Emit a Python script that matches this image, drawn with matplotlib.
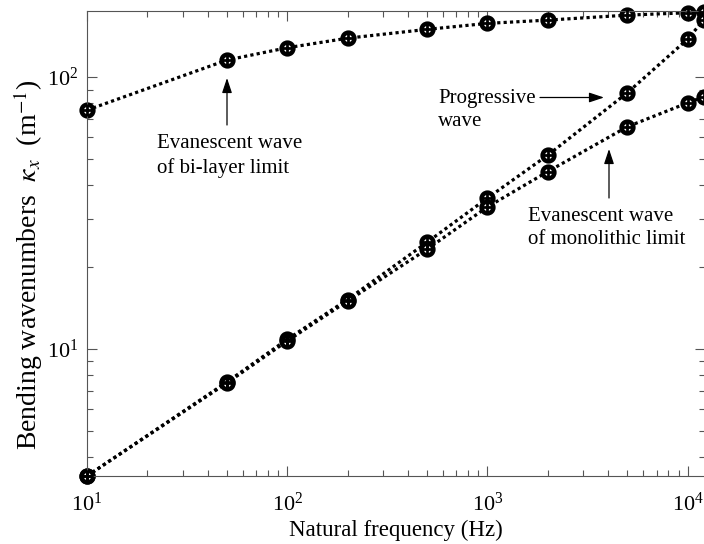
import numpy as np
import matplotlib
matplotlib.use('Agg')
import matplotlib.pyplot as plt

plt.rcParams['font.family'] = ['Liberation Serif', 'DejaVu Serif']
plt.rcParams['mathtext.fontset'] = 'stix'

# natural frequencies (Hz)
freq = [10, 50, 100, 200, 500, 1000, 2000, 5000, 10000, 12000]

# bending wavenumbers kappa_x (1/m)
k_bilayer = [75.6, 115.5, 128.2, 139.0, 149.8, 157.6, 162.0, 169.0, 172.4, 174.0]
k_progressive = [3.41, 7.56, 10.85, 15.2, 24.7, 35.9, 51.6, 87.6, 138.0, 162.0]
k_monolithic = [3.41, 7.50, 10.7, 15.0, 23.3, 33.3, 44.9, 65.7, 80.4, 84.6]

W, H = 704, 544
fig = plt.figure(figsize=(W / 100, H / 100), dpi=100)
ax = fig.add_axes([87 / W, 1 - 476 / H, 618 / W, 465 / H])

spine_col = '#555555'
for series in (k_bilayer, k_progressive, k_monolithic):
    ax.plot(freq, series, color='k', lw=2.3, dashes=(1, 1), zorder=2,
            marker='o', ms=8.5, mfc='white', mec='k', mew=3.2, clip_on=False)
    ax.plot(freq, series, ls='none', marker='+', ms=8.5, mec='k', mew=2.0,
            zorder=3, clip_on=False)

ax.set_xscale('log')
ax.set_yscale('log')
ax.set_xlim(10, 12200)
ax.set_ylim(3.41, 175)

ax.set_xlabel('Natural frequency (Hz)', fontsize=16.5, labelpad=3)
ax.set_ylabel(r'Bending wavenumbers  $\kappa_x$  (m$^{\mathrm{-1}}$)', fontsize=20)
ax.yaxis.set_label_coords(-87 / 618 + 28 / 618, 0.455)
ax.yaxis.label.set_va('center')

ax.tick_params(which='both', direction='in', top=True, right=True,
               colors=spine_col, labelcolor='k', labelsize=16)
ax.tick_params(axis='x', which='major', pad=12)
ax.tick_params(axis='y', which='major', pad=6)
ax.tick_params(which='major', length=7, width=0.8)
ax.tick_params(which='minor', length=4, width=0.8)
for s in ax.spines.values():
    s.set_color(spine_col)
    s.set_linewidth(0.8)

arrow = dict(arrowstyle='-|>,head_length=0.9,head_width=0.3', color='k', lw=0.9,
             shrinkA=0, shrinkB=0)

def pix(x, y):
    # figure-pixel position measured from the top-left corner
    return (x / W, 1 - y / H)

ax.annotate('', xy=pix(227, 78), xytext=pix(227, 125), xycoords='figure fraction',
            textcoords='figure fraction', arrowprops=arrow)
ax.text(*pix(157, 156), 'Evanescent wave\nof bi-layer limit', transform=fig.transFigure,
        fontsize=15, ha='left', va='center', linespacing=1.3)

ax.annotate('', xy=pix(604, 97.5), xytext=pix(540, 97.5), xycoords='figure fraction',
            textcoords='figure fraction', arrowprops=arrow)
ax.text(*pix(438, 110), 'Progressive\nwave', transform=fig.transFigure,
        fontsize=15, ha='left', va='center', linespacing=1.3)

ax.annotate('', xy=pix(609, 149), xytext=pix(609, 198), xycoords='figure fraction',
            textcoords='figure fraction', arrowprops=arrow)
ax.text(*pix(528, 228), 'Evanescent wave\nof monolithic limit', transform=fig.transFigure,
        fontsize=15, ha='left', va='center', linespacing=1.3)

fig.savefig('out.png', dpi=100)
